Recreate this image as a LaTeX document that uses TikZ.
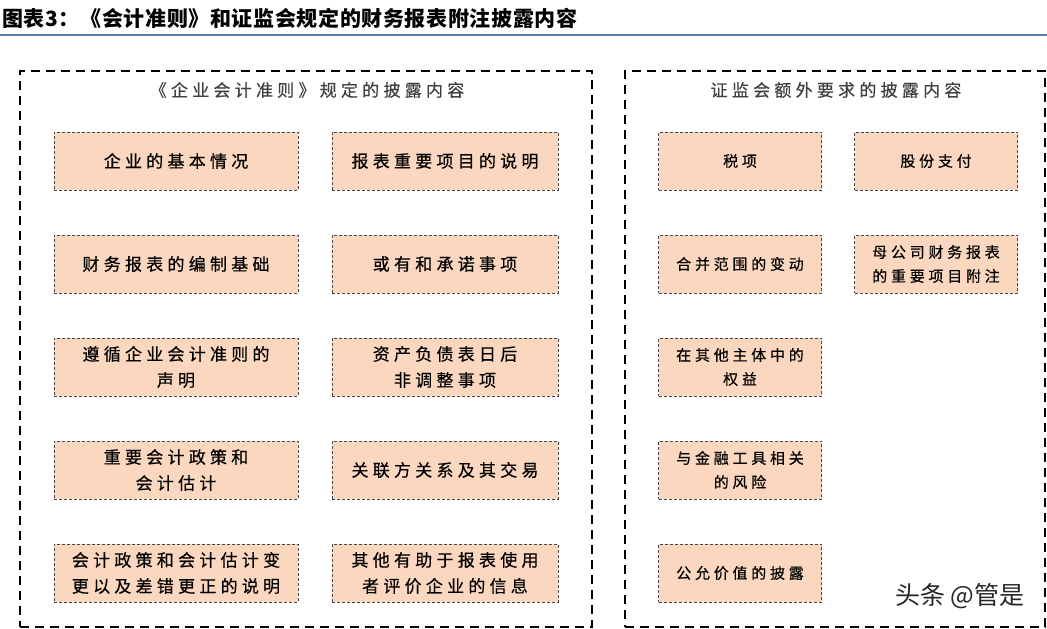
\documentclass[tikz,border=0pt]{standalone}
\usepackage{fontspec}
\setmainfont{Noto Sans CJK SC}
\newfontfamily\titlefont[LetterSpace=3]{Noto Sans CJK SC}
\newfontfamily\itemfont[LetterSpace=25,FakeBold=0.4]{Noto Sans CJK SC}
\usetikzlibrary{positioning}
\definecolor{peach}{HTML}{FAD7BE}
\definecolor{titleline}{HTML}{5B7DB1}
\definecolor{dashgray}{HTML}{474747}

\begin{document}
\begin{tikzpicture}[x=1pt,y=-1pt,
  panel/.style={draw=black, line width=2.2pt, dash pattern=on 9pt off 6pt, minimum height=556, inner sep=0pt},
  item/.style={draw=dashgray, line width=0.9pt, dash pattern=on 3pt off 2pt, fill=peach, minimum height=58, align=center, inner sep=2pt, font=\itemfont\fontsize{17}{26}\selectfont},
  smallitem/.style={item, minimum width=163, font=\itemfont\fontsize{15}{24}\selectfont},
  heading/.style={text=black!75, inner sep=0pt, font=\itemfont\fontsize{17}{20}\selectfont}]
\useasboundingbox (0,0) rectangle (1047,629);
% title and rule
\node[anchor=west, inner sep=0pt, font=\titlefont\bfseries\fontsize{21}{24}\selectfont] (title) at (2,18) {图表3：《会计准则》和证监会规定的财务报表附注披露内容};
\coordinate (rulel) at (0,35);
\coordinate (ruler) at (1047,35);
\draw[titleline, line width=2pt] (rulel) -- (ruler);
% the two panels
\node[panel, minimum width=572] (std) at (306,349) {};
\node[panel, minimum width=420] (csrc) at (835,349) {};
\node[heading] (stdhead) at (307,90) {《企业会计准则》规定的披露内容};
\node[heading] (csrchead) at (836,90) {证监会额外要求的披露内容};
% items of the accounting standards
\foreach \r/\a/\b in {1/{企业的基本情况}/{报表重要项目的说明},
                      2/{财务报表的编制基础}/{或有和承诺事项},
                      3/{遵循企业会计准则的\\声明}/{资产负债表日后\\非调整事项},
                      4/{重要会计政策和\\会计估计}/{关联方关系及其交易},
                      5/{会计政策和会计估计变\\更以及差错更正的说明}/{其他有助于报表使用\\者评价企业的信息}} {
  \node[item, minimum width=244] (std-a\r) at (176,{161+(\r-1)*103}) {\a};
  \node[item, minimum width=226] (std-b\r) at (445,{161+(\r-1)*103}) {\b};
}
% items required by the CSRC
\foreach \r/\a in {1/{税项}, 2/{合并范围的变动}, 3/{在其他主体中的\\权益},
                   4/{与金融工具相关\\的风险}, 5/{公允价值的披露}} {
  \node[smallitem] (csrc-a\r) at (740,{161+(\r-1)*103}) {\a};
}
\node[smallitem] (csrc-b1) at (936,161) {股份支付};
\node[smallitem] (csrc-b2) at (936,264) {母公司财务报表\\的重要项目附注};
% watermark
\node[text=black!85, font=\fontsize{25}{28}\selectfont] (mark) at (960,596) {头条 @管是};
\end{tikzpicture}
\end{document}
